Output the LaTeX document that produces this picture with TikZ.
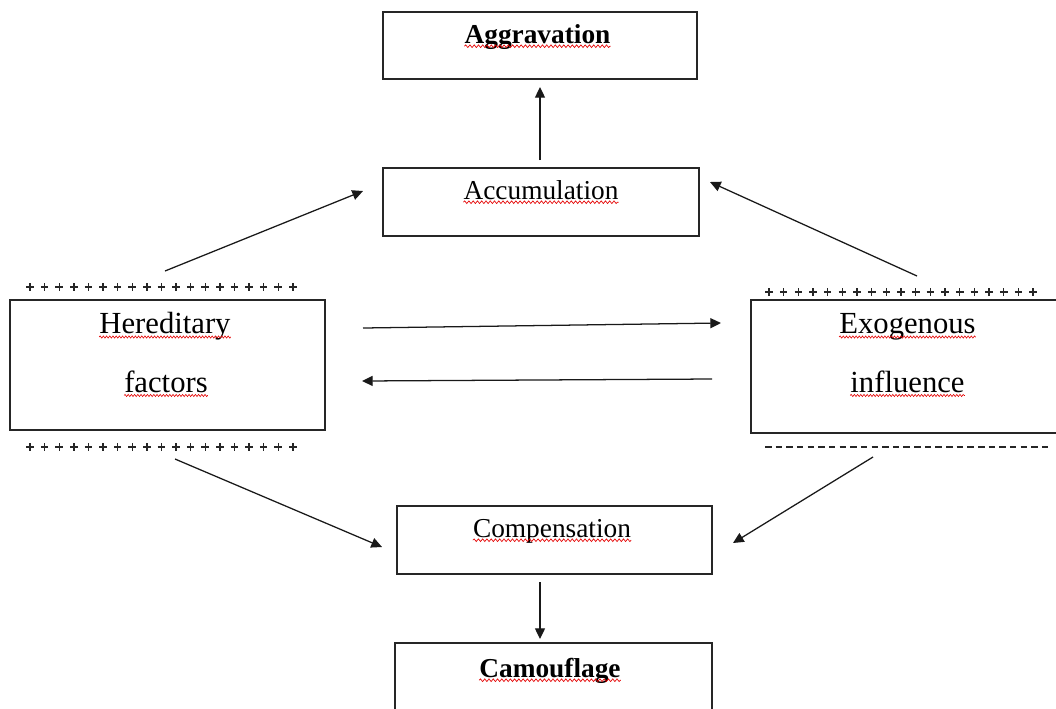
\documentclass[tikz,border=0pt]{standalone}
\usepackage{fontspec}
\setmainfont{Liberation Serif}
\usetikzlibrary{arrows.meta,decorations.pathmorphing}
\begin{document}
\begin{tikzpicture}[x=0.75pt,y=-0.75pt,
  box/.style={draw=black!85,line width=1.3pt,fill=white,inner sep=0pt},
  lab/.style={inner sep=0pt,anchor=base,font=\fontsize{20.5}{24}\selectfont},
  biglab/.style={inner sep=0pt,anchor=base,font=\fontsize{23}{27}\selectfont},
  plusbar/.style={draw=black!85,line width=1.05pt},
  arr/.style={draw=black!90,line width=0.95pt,-{Triangle[length=8pt,width=7.5pt]}},
  wavy/.style={draw=red!90!black,line width=0.5pt,decorate,decoration={snake,segment length=3.2pt,amplitude=1pt}},
  finewavy/.style={draw=red!90!black,line width=0.45pt,decorate,decoration={snake,segment length=2.4pt,amplitude=0.8pt}}]
\useasboundingbox (0,0) rectangle (1056,708);
% boxes
\node[box,minimum width=235.5pt,minimum height=50.25pt] (aggr) at (540,45.5) {};
\node[box,minimum width=237pt,minimum height=51pt] (accu) at (541,202) {};
\node[box,minimum width=236.25pt,minimum height=97.5pt] (here) at (167.5,365) {};
\node[box,minimum width=236.25pt,minimum height=99.75pt] (exog) at (908.5,366.5) {};
\node[box,minimum width=236.25pt,minimum height=51pt] (comp) at (554.5,540) {};
\node[box,minimum width=237.75pt,minimum height=51pt] (camo) at (553.5,677) {};
% labels
\node[lab,font=\fontsize{20.5}{24}\selectfont\bfseries] (taggr) at (537.5,43) {Aggravation};
\node[lab] (taccu) at (541,199) {Accumulation};
\node[biglab] (there1) at (165,333) {Hereditary};
\node[biglab] (there2) at (166,392) {factors};
\node[biglab] (texog1) at (907.5,333) {Exogenous};
\node[biglab] (texog2) at (907.5,392) {influence};
\node[lab] (tcomp) at (552,537) {Compensation};
\node[lab,font=\fontsize{20.5}{24}\selectfont\bfseries] (tcamo) at (550,677) {Camouflage};
% spell-check underlines
\foreach \t in {taggr,taccu,tcomp,tcamo}
  \draw[wavy] ([yshift=-2.4pt]\t.base west) -- ([yshift=-2.4pt]\t.base east);
\foreach \t in {there1,texog1}
  \draw[finewavy] ([yshift=-3pt]\t.base west) -- ([yshift=-3pt]\t.base east);
\foreach \t in {there2,texog2}
  \draw[finewavy] ([yshift=-2.6pt]\t.base west) -- ([yshift=-2.6pt]\t.base east);
% plus rows
\foreach \yy/\xa/\dx in {287/30/14.6, 447/30/14.6, 292/769/14.67}
  \foreach \i in {0,...,18} {
    \draw[plusbar] (\xa+\i*\dx-3.8,\yy) -- (\xa+\i*\dx+3.8,\yy);
    \draw[plusbar] (\xa+\i*\dx,\yy-3.8) -- (\xa+\i*\dx,\yy+3.8);
  }
% dash row
\foreach \i in {0,...,26}
  \draw[line width=1.2pt,black!85] (765+\i*10.65,447) -- (771.5+\i*10.65,447);
% connector end points
\coordinate (s1) at (540,160); \coordinate (e1) at (540,87);
\coordinate (s2) at (165,271); \coordinate (e2) at (363,191);
\coordinate (s3) at (917,276); \coordinate (e3) at (710,182);
\coordinate (s4) at (363,328); \coordinate (e4) at (721,323);
\coordinate (s5) at (712,379); \coordinate (e5) at (362,381);
\coordinate (s6) at (175,459); \coordinate (e6) at (382,547);
\coordinate (s7) at (873,457); \coordinate (e7) at (733,543);
\coordinate (s8) at (540,582); \coordinate (e8) at (540,639);
\foreach \k in {1,...,8}
  \draw[arr] (s\k) -- (e\k);
\end{tikzpicture}
\end{document}
